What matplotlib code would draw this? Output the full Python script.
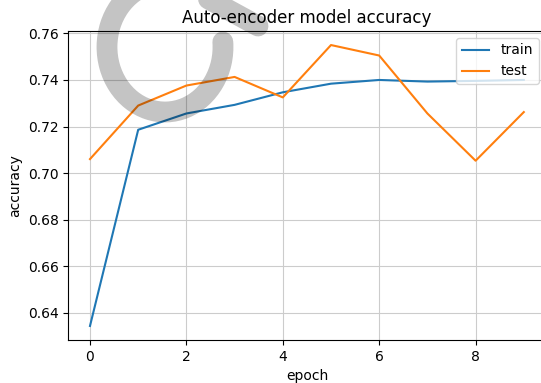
import matplotlib
matplotlib.use("Agg")
import matplotlib.pyplot as plt
from matplotlib.patches import Arc

# accuracy per epoch
epochs = [0, 1, 2, 3, 4, 5, 6, 7, 8, 9]
train_acc = [0.6343, 0.7186, 0.7256, 0.7293, 0.7347, 0.7384, 0.7400, 0.7393, 0.7396, 0.7400]
test_acc = [0.7060, 0.7290, 0.7376, 0.7413, 0.7325, 0.7550, 0.7505, 0.7256, 0.7053, 0.7262]

W, H = 541, 383
fig = plt.figure(figsize=(W / 100, H / 100), dpi=100)
# the reference is cropped: the right spine falls just outside the image
ax = fig.add_axes([68.3 / W, 1 - 340 / H, (545.5 - 68.3) / W, (340 - 31) / H])

ax.plot(epochs, train_acc, label="train")
ax.plot(epochs, test_acc, label="test")
ax.set_title("Auto-encoder model accuracy")
ax.set_xlabel("epoch")
ax.set_ylabel("accuracy")
ax.grid(True, color="#cccccc")
ax.legend(loc="upper right")

# grey watermark over the top left (pixel coords, y down)
wm = fig.add_axes([0, 0, 1, 1], facecolor="none")
wm.set_xlim(0, W)
wm.set_ylim(H, 0)
wm.axis("off")
wm.add_patch(Arc((165, 47), 116, 130, theta1=-5, theta2=290,
                 lw=15, color="black", alpha=0.23, capstyle="round"))
wm.plot([192, 258], [-10, 26], lw=15, color="black", alpha=0.23,
        solid_capstyle="round")

fig.savefig("out.png", dpi=100)
